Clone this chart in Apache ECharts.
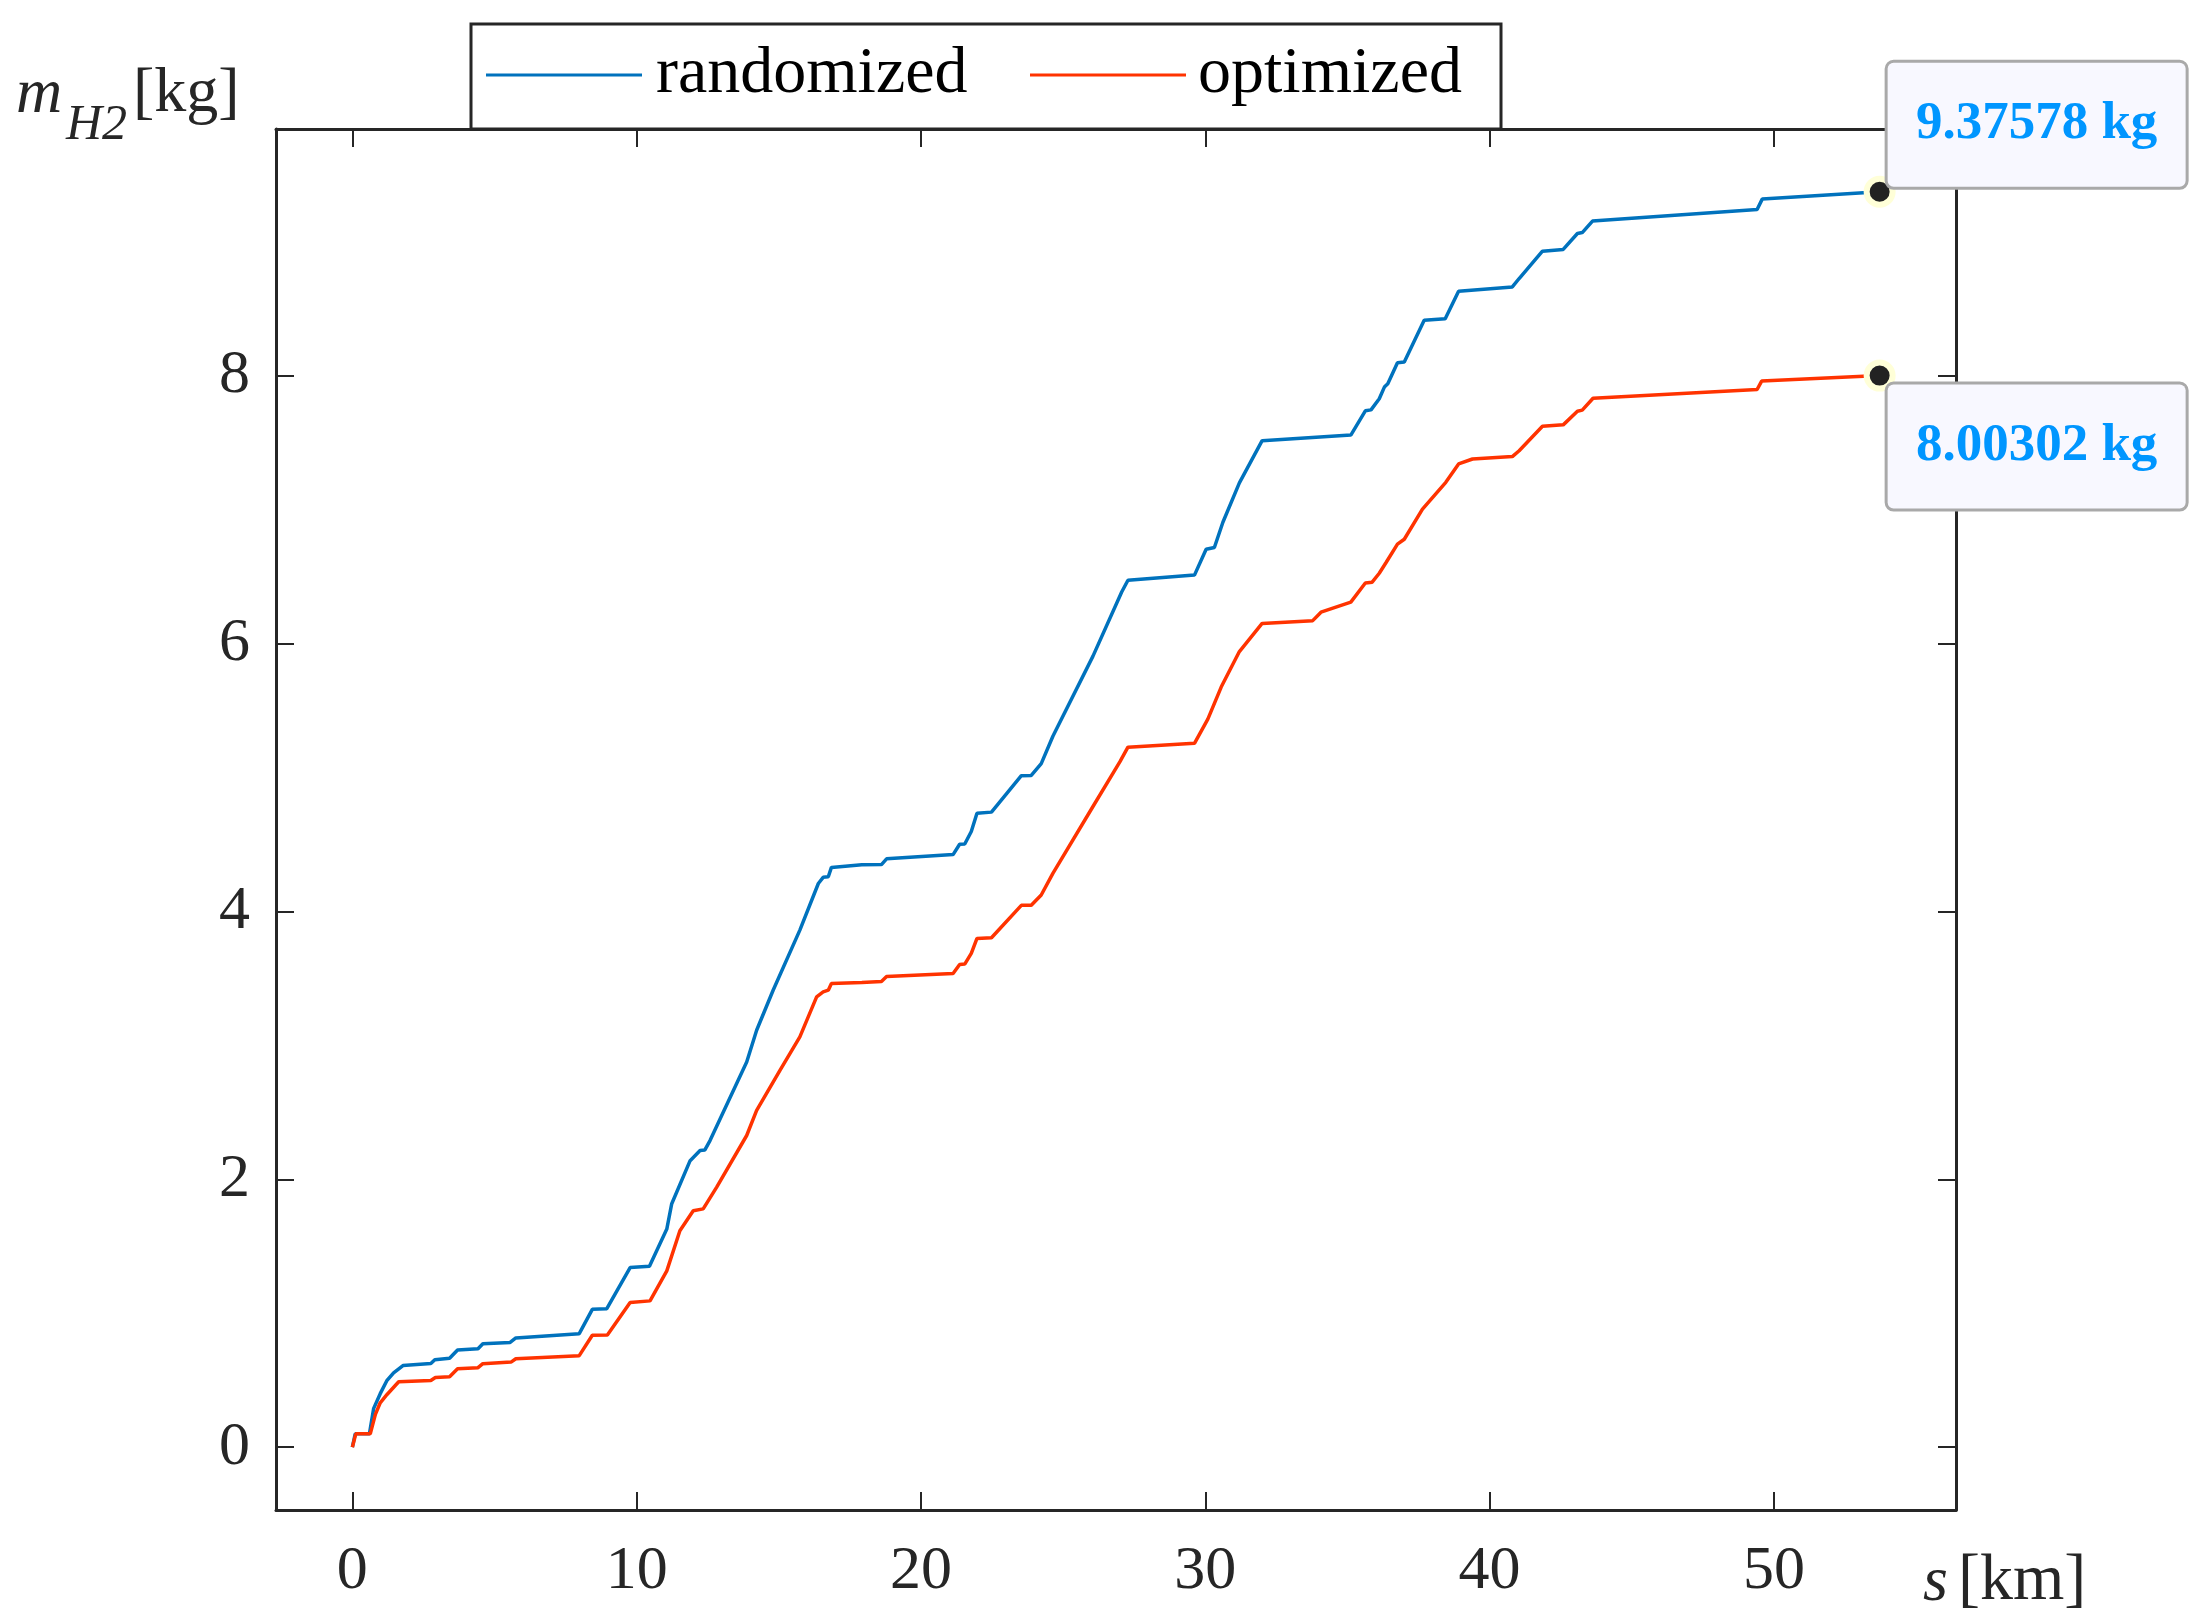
<!DOCTYPE html>
<html>
<head>
<meta charset="utf-8">
<script src="https://cdn.jsdelivr.net/npm/echarts@6.0.0/dist/echarts.min.js"></script>
<style>
html,body{margin:0;padding:0;background:#fff;}
#chart{width:2198px;height:1622px;}
</style>
</head>
<body>
<div id="chart"></div>
<script>
// ---- data ----
const seriesNames = ['randomized', 'optimized'];

const sRandomized = [0, 0.1, 0.6, 0.75, 0.98, 1.22, 1.45, 1.78, 2.76, 2.9, 3.42, 3.7, 4.42, 4.59, 5.55, 5.75, 7.98, 8.44, 8.95, 9.77,
  10.45, 11.06, 11.23, 11.88, 12.23, 12.4, 12.58, 13.87, 14.22, 14.8, 15.74, 16.39, 16.56, 16.74, 16.85, 17.92, 18.61, 18.79, 21.13, 21.36,
  21.54, 21.77, 21.97, 22.48, 23.53, 23.88, 24.23, 24.64, 26.05, 27.06, 27.28, 29.62, 30.03, 30.32, 30.62, 31.2, 32.0, 35.12, 35.63, 35.83,
  36.12, 36.3, 36.42, 36.76, 37.0, 37.7, 38.44, 38.91, 40.8, 41.04, 41.86, 42.59, 43.09, 43.26, 43.62, 49.41, 49.59, 53.72];
const mRandomized = [0, 0.1, 0.1, 0.29, 0.4, 0.5, 0.556, 0.61, 0.626, 0.654, 0.664, 0.726, 0.736, 0.773, 0.783, 0.816, 0.848, 1.03, 1.035, 1.342,
  1.352, 1.629, 1.816, 2.14, 2.216, 2.22, 2.29, 2.877, 3.114, 3.413, 3.862, 4.21, 4.256, 4.26, 4.33, 4.35, 4.351, 4.394, 4.426, 4.503,
  4.505, 4.598, 4.735, 4.743, 5.015, 5.017, 5.105, 5.31, 5.908, 6.387, 6.475, 6.513, 6.706, 6.719, 6.908, 7.202, 7.517, 7.559, 7.74, 7.747,
  7.83, 7.917, 7.942, 8.099, 8.104, 8.416, 8.428, 8.633, 8.665, 8.728, 8.932, 8.945, 9.064, 9.071, 9.157, 9.244, 9.321, 9.37578];

const sOptimized = [0, 0.12, 0.63, 0.81, 0.98, 1.22, 1.63, 2.76, 2.92, 3.42, 3.7, 4.42, 4.59, 5.58, 5.75, 7.98, 8.44, 8.97, 9.77, 10.47,
  11.06, 11.52, 11.99, 12.34, 12.81, 13.87, 14.22, 15.04, 15.74, 16.33, 16.56, 16.74, 16.85, 17.92, 18.61, 18.79, 21.13, 21.36, 21.54, 21.77,
  21.97, 22.48, 23.53, 23.88, 24.23, 24.64, 26.05, 27.0, 27.28, 29.62, 30.09, 30.56, 31.2, 32.0, 33.78, 34.07, 35.12, 35.63, 35.87, 36.12,
  36.36, 36.76, 37.0, 37.64, 38.46, 38.91, 39.4, 40.8, 41.04, 41.86, 42.59, 43.09, 43.26, 43.64, 49.41, 49.57, 53.72];
const mOptimized = [0, 0.1, 0.1, 0.245, 0.332, 0.394, 0.489, 0.499, 0.521, 0.526, 0.586, 0.594, 0.624, 0.636, 0.661, 0.684, 0.836, 0.838, 1.08, 1.093,
  1.317, 1.617, 1.766, 1.78, 1.941, 2.328, 2.515, 2.814, 3.064, 3.363, 3.4, 3.413, 3.463, 3.471, 3.478, 3.515, 3.538, 3.605, 3.608, 3.688,
  3.8, 3.805, 4.047, 4.047, 4.124, 4.286, 4.785, 5.12, 5.228, 5.257, 5.438, 5.677, 5.942, 6.152, 6.173, 6.236, 6.311, 6.454, 6.46, 6.527,
  6.607, 6.744, 6.781, 7.006, 7.206, 7.343, 7.38, 7.398, 7.442, 7.625, 7.635, 7.737, 7.745, 7.834, 7.899, 7.962, 8.00302];

const endLabels = ['9.37578 kg', '8.00302 kg'];
const xTicks = [0, 10, 20, 30, 40, 50];
const yTicks = [0, 2, 4, 6, 8];

// ---- styling ----
const FONT = '"Liberation Serif", "Times New Roman", serif';
const AX = '#262626';
const BLUE = '#0072BD';
const RED = '#FF3300';

const sMax = sRandomized[sRandomized.length - 1];
const mMax = mRandomized[mRandomized.length - 1];
const xMin = -0.05 * sMax, xMax = 1.05 * sMax;
const yMin = -0.05 * mMax, yMax = 1.05 * mMax;

const toPairs = (xs, ys) => xs.map((x, i) => [x, ys[i]]);

function axisX(pos, labels) {
  return {
    type: 'value', position: pos, min: xMin, max: xMax,
    axisLine: { show: true, onZero: false, lineStyle: { color: AX, width: 3 } },
    axisTick: { show: true, inside: true, length: 18, customValues: xTicks, lineStyle: { color: AX, width: 2 } },
    axisLabel: labels ? { show: true, customValues: xTicks, margin: 31, fontSize: 62, fontFamily: FONT, color: AX } : { show: false },
    splitLine: { show: false }
  };
}
function axisY(pos, labels) {
  return {
    type: 'value', position: pos, min: yMin, max: yMax,
    axisLine: { show: true, onZero: false, lineStyle: { color: AX, width: 3 } },
    axisTick: { show: true, inside: true, length: 18, customValues: yTicks, lineStyle: { color: AX, width: 2 } },
    axisLabel: labels ? { show: true, customValues: yTicks, margin: 26, fontSize: 62, fontFamily: FONT, color: AX } : { show: false },
    splitLine: { show: false }
  };
}

function endPoint(name, xs, ys, label, above) {
  const n = xs.length - 1;
  return {
    name: name, type: 'scatter', xAxisIndex: 0, yAxisIndex: 0,
    data: [[xs[n], ys[n]]],
    symbol: 'circle', symbolSize: 26, z: 5,
    itemStyle: { color: '#222222', borderColor: '#FFFFD8', borderWidth: 6, opacity: 1 },
    label: {
      show: true,
      position: above ? [24, 11] : [24, 25],
      align: 'left', verticalAlign: above ? 'bottom' : 'top',
      formatter: '{t|' + label + '}',
      backgroundColor: '#F8F8FF', borderColor: '#A9A9A9', borderWidth: 3, borderRadius: 6, padding: 0,
      rich: { t: { width: 298, height: 124, align: 'center', verticalAlign: 'middle', fontSize: 53, fontWeight: 'bold', fontFamily: FONT, color: '#0096FF' } }
    },
    emphasis: { disabled: true }, silent: true
  };
}

function legendFor(name, left, padLeft) {
  return {
    data: [name], left: left, top: 38, padding: 0, itemGap: 0,
    icon: 'rect', itemWidth: 156, itemHeight: 3,
    selectedMode: false,
    textStyle: { fontSize: 66, fontFamily: FONT, color: '#000', lineHeight: 74, padding: [0, 0, 0, padLeft] }
  };
}

const chart = echarts.init(document.getElementById('chart'), null, { renderer: 'canvas' });
chart.setOption({
  backgroundColor: '#ffffff',
  animation: false,
  grid: { left: 276, right: 242, top: 129, bottom: 112, containLabel: false },
  xAxis: [axisX('bottom', true), axisX('top', false)],
  yAxis: [axisY('left', true), axisY('right', false)],
  legend: [legendFor(seriesNames[0], 486, 9), legendFor(seriesNames[1], 1030, 7)],
  graphic: [
    { type: 'rect', z: 3, shape: { x: 471, y: 24, width: 1030, height: 105 }, style: { fill: '#fff', stroke: AX, lineWidth: 3 } },
    { type: 'text', z: 10, x: 16, y: 95, style: { text: 'm', font: 'italic 64px ' + FONT, fill: AX, textAlign: 'left', textVerticalAlign: 'middle' } },
    { type: 'text', z: 10, x: 66, y: 126, style: { text: 'H2', font: 'italic 50px ' + FONT, fill: AX, textAlign: 'left', textVerticalAlign: 'middle' } },
    { type: 'text', z: 10, x: 133, y: 94, style: { text: '[kg]', font: '64px ' + FONT, fill: AX, textAlign: 'left', textVerticalAlign: 'middle' } },
    { type: 'text', z: 10, x: 1923, y: 1583, style: { text: 's', font: 'italic 64px ' + FONT, fill: AX, textAlign: 'left', textVerticalAlign: 'middle' } },
    { type: 'text', z: 10, x: 1958, y: 1582, style: { text: '[km]', font: '66px ' + FONT, fill: AX, textAlign: 'left', textVerticalAlign: 'middle' } }
  ],
  series: [
    { name: seriesNames[0], type: 'line', data: toPairs(sRandomized, mRandomized), showSymbol: false, smooth: false,
      lineStyle: { color: BLUE, width: 3.5 }, itemStyle: { color: BLUE }, z: 3, emphasis: { disabled: true } },
    { name: seriesNames[1], type: 'line', data: toPairs(sOptimized, mOptimized), showSymbol: false, smooth: false,
      lineStyle: { color: RED, width: 3.5 }, itemStyle: { color: RED }, z: 3, emphasis: { disabled: true } },
    endPoint('end-randomized', sRandomized, mRandomized, endLabels[0], true),
    endPoint('end-optimized', sOptimized, mOptimized, endLabels[1], false)
  ]
});
</script>
</body>
</html>
